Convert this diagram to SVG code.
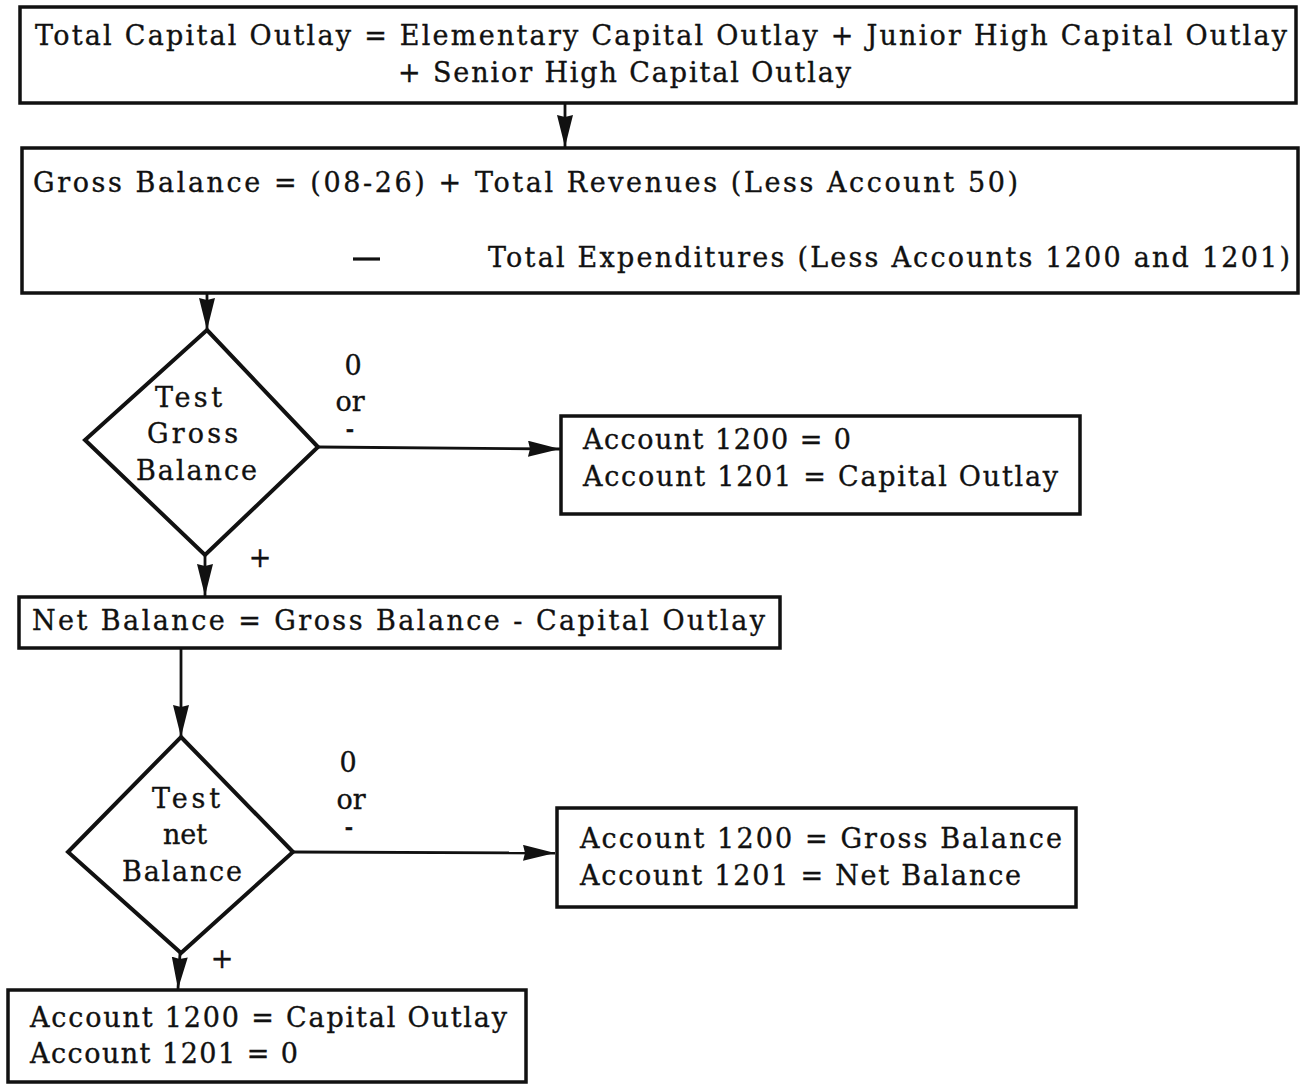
<svg xmlns="http://www.w3.org/2000/svg" width="1304" height="1084" viewBox="0 0 1304 1084">
  <style>
    .box { fill: #fff; stroke: #111; stroke-width: 3.5; }
    .dia { fill: #fff; stroke: #111; stroke-width: 4; stroke-linejoin: miter; }
    .wire { fill: none; stroke: #111; stroke-width: 2.8; }
    text { font-family: "DejaVu Serif", "Liberation Serif", serif; font-size: 27px; fill: #111; stroke: #111; stroke-width: 0.35; }
    .mid { text-anchor: middle; }
    .dash { font-size: 20px; font-weight: bold; }
  </style>
  <defs>
    <marker id="head" markerUnits="userSpaceOnUse" markerWidth="36" markerHeight="18" refX="32" refY="8" orient="auto">
      <path d="M0,0 L32,8 L0,16 L2,8 Z" fill="#111"/>
    </marker>
  </defs>
  <rect width="1304" height="1084" fill="#fff"/>

  <!-- connectors and their branch labels -->
  <g id="connectors">
    <line class="wire" x1="565" y1="104" x2="565" y2="147" marker-end="url(#head)"/>
    <line class="wire" x1="207" y1="294" x2="207" y2="330" marker-end="url(#head)"/>
    <line class="wire" x1="318" y1="447" x2="560" y2="449" marker-end="url(#head)"/>
    <line class="wire" x1="205" y1="555" x2="205" y2="596" marker-end="url(#head)"/>
    <line class="wire" x1="181" y1="649" x2="181" y2="737" marker-end="url(#head)"/>
    <line class="wire" x1="293" y1="852" x2="555" y2="853" marker-end="url(#head)"/>
    <line class="wire" x1="180" y1="953" x2="178" y2="989" marker-end="url(#head)"/>
    <text class="mid" x="353" y="375">0</text>
    <text class="mid" x="350" y="411">or</text>
    <text class="mid dash" x="350" y="436">-</text>
    <text class="mid" x="260" y="567">+</text>
    <text class="mid" x="348" y="772">0</text>
    <text class="mid" x="351" y="809">or</text>
    <text class="mid dash" x="349" y="834">-</text>
    <text class="mid" x="222" y="968">+</text>
  </g>

  <g id="total-capital-outlay">
    <rect class="box" x="20" y="7" width="1276" height="96"/>
    <text x="35" y="45" textLength="1252" lengthAdjust="spacing">Total Capital Outlay = Elementary Capital Outlay + Junior High Capital Outlay</text>
    <text x="398" y="82" textLength="453" lengthAdjust="spacing">+ Senior High Capital Outlay</text>
  </g>

  <g id="gross-balance">
    <rect class="box" x="22" y="148" width="1276" height="145"/>
    <text x="33" y="192" textLength="985" lengthAdjust="spacing">Gross Balance = (08-26)  + Total Revenues (Less Account 50)</text>
    <line x1="353" y1="259" x2="380" y2="259" stroke="#111" stroke-width="3.2"/>
    <text x="488" y="267" textLength="802" lengthAdjust="spacing">Total Expenditures (Less Accounts 1200 and 1201)</text>
  </g>

  <g id="test-gross-balance">
    <polygon class="dia" points="207,330 318,447 205,555 85,440"/>
    <text class="mid" x="188.5" y="407" textLength="67" lengthAdjust="spacing">Test</text>
    <text class="mid" x="192.5" y="443" textLength="91" lengthAdjust="spacing">Gross</text>
    <text class="mid" x="196.5" y="480" textLength="121" lengthAdjust="spacing">Balance</text>
  </g>

  <g id="gross-nonpositive">
    <rect class="box" x="561" y="416" width="519" height="98"/>
    <text x="583" y="449" textLength="268" lengthAdjust="spacing">Account 1200 = 0</text>
    <text x="583" y="486" textLength="475" lengthAdjust="spacing">Account 1201 = Capital Outlay</text>
  </g>

  <g id="net-balance">
    <rect class="box" x="19" y="597" width="761" height="51"/>
    <text x="32" y="630" textLength="733" lengthAdjust="spacing">Net Balance = Gross Balance - Capital Outlay</text>
  </g>

  <g id="test-net-balance">
    <polygon class="dia" points="181,737 293,852 181,953 68,852"/>
    <text class="mid" x="186" y="808" textLength="68" lengthAdjust="spacing">Test</text>
    <text class="mid" x="185" y="844" textLength="44" lengthAdjust="spacing">net</text>
    <text class="mid" x="182" y="881" textLength="120" lengthAdjust="spacing">Balance</text>
  </g>

  <g id="net-nonpositive">
    <rect class="box" x="557" y="808" width="519" height="99"/>
    <text x="580" y="848" textLength="482" lengthAdjust="spacing">Account 1200 = Gross Balance</text>
    <text x="580" y="885" textLength="441" lengthAdjust="spacing">Account 1201 =  Net Balance</text>
  </g>

  <g id="net-positive">
    <rect class="box" x="8" y="990" width="518" height="92"/>
    <text x="30" y="1027" textLength="477" lengthAdjust="spacing">Account 1200 = Capital Outlay</text>
    <text x="30" y="1063" textLength="268" lengthAdjust="spacing">Account 1201 = 0</text>
  </g>
</svg>
